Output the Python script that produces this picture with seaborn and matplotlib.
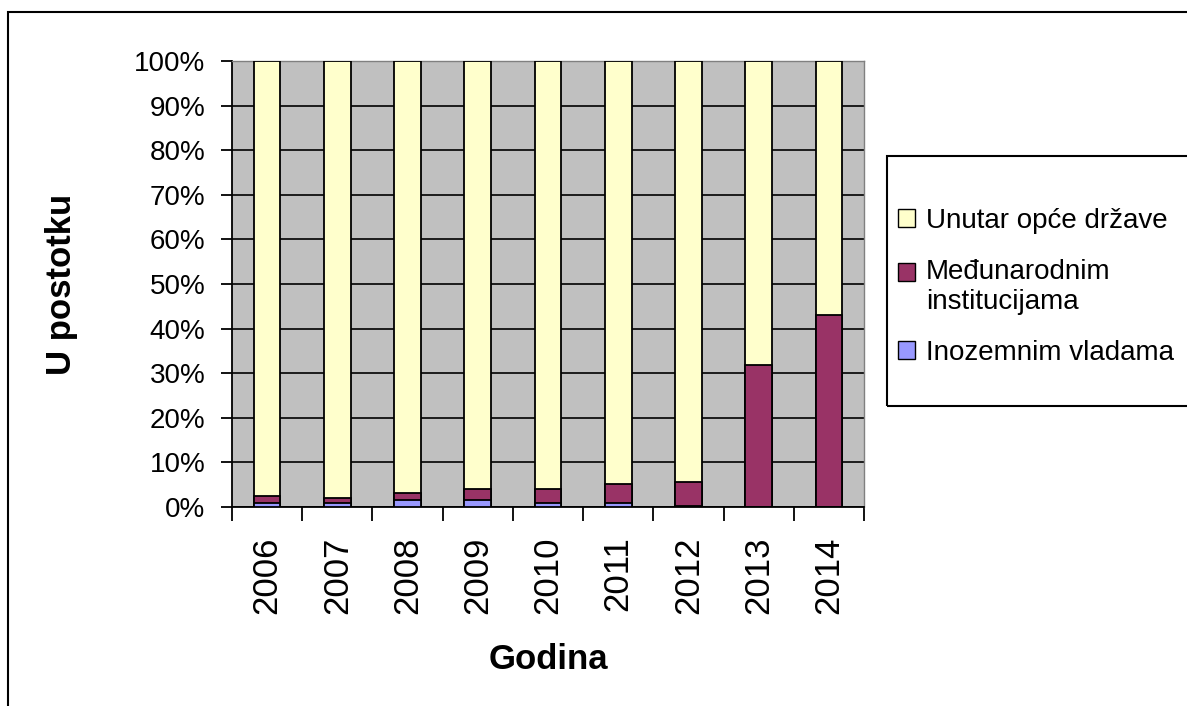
import matplotlib
matplotlib.use('Agg')
import matplotlib.pyplot as plt
import seaborn as sns
import numpy as np
from matplotlib.patches import Patch, Rectangle

# podaci (udio u postotku)
godine = ['2006', '2007', '2008', '2009', '2010', '2011', '2012', '2013', '2014']
inozemnim_vladama = [1.0, 1.0, 1.6, 1.6, 0.8, 0.8, 0.2, 0.0, 0.0]
medjunarodnim = [1.5, 1.1, 1.6, 2.5, 3.2, 4.3, 5.5, 31.8, 43.0]
unutar_opce = [100 - a - b for a, b in zip(inozemnim_vladama, medjunarodnim)]

boja_zuta = '#FFFFCC'
boja_bordo = '#993366'
boja_plava = '#9999FF'

sns.set_style('white')
plt.rcParams['font.family'] = ['Liberation Sans', 'DejaVu Sans']
plt.rcParams['text.color'] = 'black'
plt.rcParams['axes.labelcolor'] = 'black'
plt.rcParams['xtick.color'] = 'black'
plt.rcParams['ytick.color'] = 'black'

fig = plt.figure(figsize=(11.87, 7.06), dpi=100)
ax = fig.add_axes([232 / 1187, 199 / 706, 632 / 1187, 446 / 706])
ax.set_facecolor('#C0C0C0')

# naslagani stupci: crtamo kumulativne visine jednu preko druge
kum_bordo = [a + b for a, b in zip(inozemnim_vladama, medjunarodnim)]
ukupno = [a + b for a, b in zip(kum_bordo, unutar_opce)]
sns.barplot(x=godine, y=ukupno, color=boja_zuta, width=0.38, edgecolor='black',
            linewidth=1.3, saturation=1, ax=ax, zorder=3)
sns.barplot(x=godine, y=kum_bordo, color=boja_bordo, width=0.38, edgecolor='black',
            linewidth=1.3, saturation=1, ax=ax, zorder=3)
sns.barplot(x=godine, y=inozemnim_vladama, color=boja_plava, width=0.38, edgecolor='black',
            linewidth=1.3, saturation=1, ax=ax, zorder=3)

ax.set_ylim(0, 100)
ax.set_xlim(-0.5, 8.5)
ax.set_yticks(np.arange(0, 101, 10))
ax.set_yticklabels([f'{v}%' for v in range(0, 101, 10)], fontsize=20)
ax.yaxis.grid(True, color='black', linewidth=1.2, zorder=0)
ax.set_axisbelow(True)
ax.tick_params(axis='y', left=True, length=8, width=1.3, pad=11)

ax.set_xticks(range(len(godine)))
ax.set_xticklabels(godine, rotation=90, fontsize=25)
ax.set_xticks(np.arange(-0.5, 9, 1), minor=True)
ax.tick_params(axis='x', which='major', length=0, pad=21)
ax.tick_params(axis='x', which='minor', bottom=True, length=10, width=1.3)

for s in ['left', 'bottom']:
    ax.spines[s].set_color('black')
    ax.spines[s].set_linewidth(1.3)
for s in ['top', 'right']:
    ax.spines[s].set_color('#808080')
    ax.spines[s].set_linewidth(1.0)

ax.set_xlabel('Godina', fontsize=25, fontweight='bold', va='top')
ax.xaxis.set_label_coords(0.5, -0.305)
ax.set_ylabel('U postotku', fontsize=25, fontweight='bold')
ax.yaxis.set_label_coords(-0.2437, 0.5)

# legenda
rucke = [
    Patch(facecolor=boja_zuta, edgecolor='black', label='Unutar opće države'),
    Patch(facecolor=boja_bordo, edgecolor='black', label='Međunarodnim\ninstitucijama'),
    Patch(facecolor=boja_plava, edgecolor='black', label='Inozemnim vladama'),
]
leg = fig.legend(handles=rucke, loc='upper left', bbox_to_anchor=(898 / 1187, 1 - 208 / 706),
                 fontsize=20, frameon=False,
                 handlelength=0.6, handleheight=0.6, handletextpad=0.4,
                 labelspacing=0.9, borderpad=0, borderaxespad=0)
# kvadratić druge stavke poravnat s prvim retkom teksta
h = leg.legend_handles[1]
h.set_y(h.get_y() + 11)
fig.patches.append(Rectangle((887 / 1187, 1 - 406 / 706), 0.3, 250 / 706, transform=fig.transFigure,
                             fill=False, edgecolor='black', linewidth=1.5))

# okvir oko cijelog grafikona
fig.patches.append(Rectangle((8 / 1187, -0.05), 1.2, 1.05 - 12 / 706, transform=fig.transFigure,
                             fill=False, edgecolor='black', linewidth=1.5))

fig.savefig('out.png', dpi=100)
